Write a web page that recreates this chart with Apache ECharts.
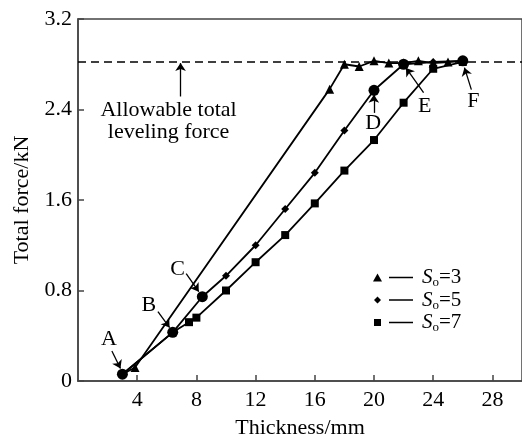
<!DOCTYPE html>
<html>
<head>
<meta charset="utf-8">
<script src="https://cdn.jsdelivr.net/npm/echarts@6/dist/echarts.min.js"></script>
<style>
  html, body { margin: 0; padding: 0; background: #fff; }
  #chart { width: 522px; height: 444px; }
</style>
</head>
<body>
<div id="chart"></div>
<script>
// thickness (mm) / total force (kN)
const s3 = [[3, 0.06], [3.85, 0.12], [17, 2.58], [18, 2.8], [19, 2.78], [20, 2.83], [21, 2.81],
  [22, 2.81], [23, 2.83], [24, 2.81], [25, 2.82], [26, 2.83]]
const s5 = [[3, 0.06], [6.4, 0.43], [8.4, 0.745], [10, 0.93], [12, 1.2], [14, 1.52], [16, 1.84],
  [18, 2.215], [20, 2.57], [22, 2.8], [24, 2.82], [26, 2.83]]
const s7 = [[3, 0.06], [6.4, 0.43], [7.5, 0.52], [8, 0.56], [10, 0.8], [12, 1.05], [14, 1.29],
  [16, 1.57], [18, 1.86], [20, 2.13], [22, 2.46], [24, 2.76], [26, 2.82]]

// labelled key points
const keyNames = ['A', 'B', 'C', 'D', 'E', 'F']
const keyPoints = [[3, 0.06], [6.4, 0.43], [8.4, 0.745], [20, 2.57], [22, 2.8], [26, 2.83]]
// letter positions and arrow ends (data coords)
const letterPos = [[2.09, 0.37], [4.78, 0.67], [6.73, 0.99], [19.94, 2.28], [23.42, 2.43], [26.72, 2.47]]
const arrowFrom = [[2.29, 0.265], [5.4, 0.613], [7.31, 0.95], [19.99, 2.37], [23.35, 2.55], [26.58, 2.576]]
const arrowTo = [[2.87, 0.11], [6.19, 0.472], [8.16, 0.79], [19.99, 2.53], [22.16, 2.767], [26.11, 2.77]]

const allowable = 2.82
const allowText = 'Allowable total\nleveling force'
const allowTextPos = [6.12, 2.3]
const allowArrow = [[6.93, 2.515], [6.93, 2.81]]

const xTicks = { min: 0, max: 30, interval: 4 }
const yTicks = { min: 0, max: 3.2, interval: 0.8 }

const seriesNames = ['So=3', 'So=5', 'So=7']
const FONT = 'Liberation Serif'

const isKey = (p) => keyPoints.some((k) => k[0] === p[0] && k[1] === p[1])
const toData = (arr) => arr.map((p) => (isKey(p) ? { value: p, symbol: 'none' } : p))

const lineSeries = (name, data, symbol, size) => ({
  name,
  type: 'line',
  data: toData(data),
  symbol,
  symbolSize: size,
  showAllSymbol: true,
  color: '#000',
  lineStyle: { color: '#000', width: 1.8 },
  itemStyle: { color: '#000', opacity: 1 },
  z: 3
})

const chart = echarts.init(document.getElementById('chart'))

const option = {
  backgroundColor: '#fff',
  animation: false,
  textStyle: { fontFamily: FONT, color: '#000' },
  grid: {
    left: 78,
    top: 19,
    width: 450,
    height: 364,
    show: true,
    borderColor: '#444',
    borderWidth: 1.5
  },
  legend: {
    orient: 'vertical',
    left: 368,
    top: 262,
    itemWidth: 40,
    itemHeight: 10,
    itemGap: 0,
    data: [
      { name: 'So=3', icon: 'path://M0,0M0,10M0,9L4.5,1L9,9Z M16,4.3H40V5.7H16Z' },
      { name: 'So=5', icon: 'path://M0,0M0,10M1,5L4.5,1.5L8,5L4.5,8.5Z M16,4.3H40V5.7H16Z' },
      { name: 'So=7', icon: 'path://M0,0M0,10M1,1.5H8V8.5H1Z M16,4.3H40V5.7H16Z' }
    ],
    formatter: (name) => '{i|S}{s|o}{n|' + name.slice(2) + '}',
    textStyle: {
      fontFamily: FONT,
      color: '#000',
      padding: [0, 0, 0, 4],
      rich: {
        i: { fontFamily: FONT, fontSize: 21, fontStyle: 'italic', color: '#000' },
        s: { fontFamily: FONT, fontSize: 13, color: '#000', padding: [11, 0, 0, 0] },
        n: { fontFamily: FONT, fontSize: 21, color: '#000' }
      }
    }
  },
  xAxis: {
    type: 'value',
    min: xTicks.min,
    max: xTicks.max,
    interval: xTicks.interval,
    name: 'Thickness/mm',
    nameLocation: 'middle',
    nameGap: 36,
    nameTextStyle: { fontFamily: FONT, fontSize: 22, color: '#000' },
    axisLine: { lineStyle: { color: '#444', width: 1.5 } },
    axisTick: { inside: true, length: 6, lineStyle: { color: '#444', width: 1.5 } },
    axisLabel: { fontFamily: FONT, fontSize: 22, color: '#000', margin: 8, showMinLabel: false, showMaxLabel: false },
    splitLine: { show: false }
  },
  yAxis: {
    type: 'value',
    min: yTicks.min,
    max: yTicks.max,
    interval: yTicks.interval,
    name: 'Total force/kN',
    nameLocation: 'middle',
    nameGap: 44,
    nameTextStyle: { fontFamily: FONT, fontSize: 22, color: '#000' },
    axisLine: { lineStyle: { color: '#444', width: 1.5 } },
    axisTick: { inside: true, length: 6, lineStyle: { color: '#444', width: 1.5 } },
    axisLabel: { fontFamily: FONT, fontSize: 22, color: '#000', margin: 6, formatter: (v) => (v === 0 ? '0' : v.toFixed(1)) },
    splitLine: { show: false }
  },
  series: [
    {
      ...lineSeries(seriesNames[0], s3, 'triangle', 9),
      markLine: {
        silent: true,
        symbol: 'none',
        label: { show: false },
        lineStyle: { color: '#000', width: 1.5, type: [8, 5] },
        data: [{ yAxis: allowable }]
      }
    },
    lineSeries(seriesNames[1], s5, 'diamond', 8),
    lineSeries(seriesNames[2], s7, 'rect', 8),
    {
      name: 'key',
      type: 'scatter',
      data: keyPoints,
      symbol: 'circle',
      symbolSize: 11,
      itemStyle: { color: '#000', opacity: 1 },
      z: 5,
      markLine: {
        silent: true,
        symbol: ['none', 'arrow'],
        symbolSize: 8,
        label: { show: false },
        lineStyle: { color: '#000', width: 1.3, type: 'solid' },
        data: arrowFrom.map((p, i) => [{ coord: p }, { coord: arrowTo[i] }])
          .concat([[{ coord: allowArrow[0] }, { coord: allowArrow[1] }]])
      },
      markPoint: {
        silent: true,
        symbol: 'circle',
        symbolSize: 1,
        itemStyle: { color: 'rgba(0,0,0,0)' },
        label: {
          show: true,
          position: 'inside',
          formatter: '{b}',
          fontFamily: FONT,
          fontSize: 22,
          lineHeight: 22,
          color: '#000'
        },
        data: letterPos.map((p, i) => ({ name: keyNames[i], coord: p }))
          .concat([{ name: allowText, coord: allowTextPos }])
      }
    }
  ]
}

chart.setOption(option)
</script>
</body>
</html>
